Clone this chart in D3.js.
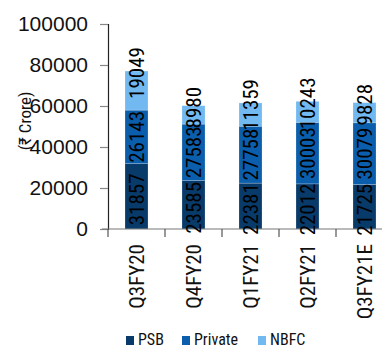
<!DOCTYPE html>
<html><head><meta charset="utf-8">
<script src="https://cdn.jsdelivr.net/npm/d3@7/dist/d3.min.js"></script>
<style>
html,body{margin:0;padding:0;background:#fff;overflow:hidden;}
svg{display:block;font-family:"Liberation Sans Narrow","Arial Narrow","Roboto Condensed",sans-serif;}
</style></head>
<body><svg id="c" width="382" height="349"></svg>
<script>
const categories = ["Q3FY20","Q4FY20","Q1FY21","Q2FY21","Q3FY21E"];
const seriesNames = ["PSB","Private","NBFC"];
const psb = [31857,23585,22381,22012,21725];
const priv = [26143,27583,27758,30003,30079];
const nbfc = [19049,8980,11359,10243,9828];
const yTicks = [0,20000,40000,60000,80000,100000];
const colors = ["#083a6a","#0b5eab","#72b8f1"];

const svg = d3.select("#c");
const xb = d3.scaleBand().domain(categories).range([108,393]);
const y = d3.scaleLinear().domain([0,100000]).range([229,24]);

const rows = categories.map((c,i)=>({cat:c,PSB:psb[i],Private:priv[i],NBFC:nbfc[i]}));
const stack = d3.stack().keys(seriesNames)(rows);
const cx = c => xb(c)+xb.bandwidth()/2;

// bars
stack.forEach((s,si)=>{
  svg.append("g").selectAll("rect").data(s).join("rect")
    .attr("x",d=>cx(d.data.cat)-11.5)
    .attr("width",23)
    .attr("y",d=>y(d[1]))
    .attr("height",d=>y(d[0])-y(d[1]))
    .attr("fill",colors[si])
    .attr("stroke","rgba(255,255,255,0.35)").attr("stroke-width",0.6);
});

// y axis
const ya = svg.append("g").attr("transform","translate(108,0)")
  .call(d3.axisLeft(y).tickValues(yTicks).tickFormat(d3.format("d")).tickSize(8).tickPadding(12));
ya.select(".domain").attr("stroke","#222").attr("stroke-width",1.2);
ya.selectAll(".tick line").attr("stroke","#888").attr("stroke-width",1.2);
ya.selectAll(".tick text").attr("font-size",21).attr("fill","#111")
  .attr("font-family","Liberation Sans Narrow, Arial Narrow, sans-serif");

// x axis
const xa = svg.append("g").attr("transform","translate(0,229)");
xa.append("line").attr("x1",102).attr("x2",393).attr("y1",0).attr("y2",0).attr("stroke","#777").attr("stroke-width",1.2);
xa.selectAll("line.t").data(categories.concat(["_end"])).join("line").attr("class","t")
  .attr("x1",(d,i)=>108+i*xb.bandwidth()).attr("x2",(d,i)=>108+i*xb.bandwidth())
  .attr("y1",0).attr("y2",8).attr("stroke","#555").attr("stroke-width",1.2);
xa.selectAll("text").data(categories).join("text")
  .attr("transform",d=>`translate(${cx(d)+7},15) rotate(-90)`)
  .attr("text-anchor","end").attr("font-size",21).attr("fill","#111").text(d=>d);

// y title
svg.append("text").attr("transform","translate(31,121) rotate(-90)")
  .attr("text-anchor","middle").attr("font-size",17).attr("fill","#111").text("(₹ Crore)");

// value labels
const fs = 21;
categories.forEach((c,ci)=>{
  stack.forEach((s,si)=>{
    const d = s[ci];
    const val = d[1]-d[0];
    let cy;
    if (si === 2) cy = y(d[1]) + 2;
    else if (si === 0) cy = (y(d[0])+y(d[1]))/2 + 3;
    else cy = (y(d[0])+y(d[1]))/2;
    svg.append("text").attr("font-size",fs).attr("fill","#000")
      .attr("text-anchor","middle")
      .attr("transform",`translate(${cx(c)+7},${cy}) rotate(-90)`)
      .text(d3.format("d")(val));
  });
});

// legend
const lg = svg.append("g");
const lx = [126,182,258];
seriesNames.forEach((n,i)=>{
  lg.append("rect").attr("x",lx[i]).attr("y",336).attr("width",8).attr("height",9).attr("fill",colors[i]);
  lg.append("text").attr("x",lx[i]+12).attr("y",345).attr("font-size",16).attr("fill","#111").text(n);
});
</script></body></html>
